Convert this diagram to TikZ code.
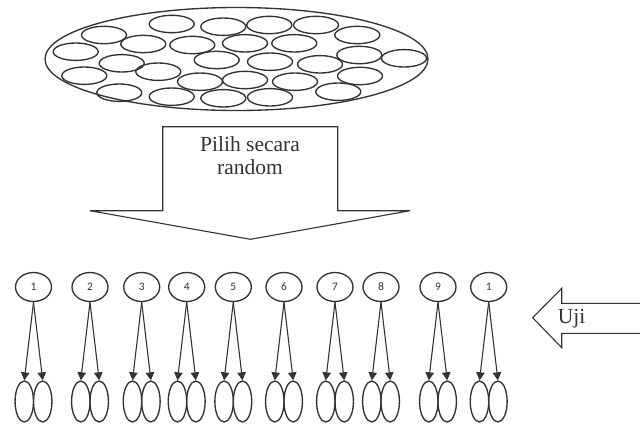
\documentclass[tikz,border=0pt]{standalone}
\usepackage{fontspec}
\setmainfont{Liberation Serif}
\newfontfamily\digitfont{Carlito}
\usetikzlibrary{shapes.geometric,arrows.meta}
\definecolor{ink}{HTML}{333333}
\tikzset{
  outline/.style={draw=ink, line width=1.35pt},
  topcell/.style={ellipse, outline, minimum width=36pt, minimum height=29pt, inner sep=0pt,
                  font=\digitfont\fontsize{11.5}{13}\selectfont, text=ink},
  leafcell/.style={ellipse, outline, minimum width=18.5pt, minimum height=41pt, inner sep=0pt},
  split/.style={draw=ink, line width=1.1pt, -{Triangle[length=8pt,width=8.5pt]}},
  bigtext/.style={font=\fontsize{21.5}{23}\selectfont, text=ink, align=center}
}
\begin{document}
\begin{tikzpicture}[x=1pt,y=-1pt]
\useasboundingbox (0,0) rectangle (640,424);

% population: a large ellipse full of small ones
\draw[outline] (236.5,59) ellipse [x radius=191.5, y radius=51.5];
\foreach \cx/\cy in {171.7/24, 223.3/26.7, 269.3/25, 316/25,
    104/35, 143.3/44, 192.3/45, 245/43.3, 294.3/43.3, 357.3/35,
    75.7/51.7, 216.7/60, 270/61.7, 320/64.3, 359.3/55, 404/58.3,
    121.7/63.3, 158.3/71.7, 84.3/75.7, 200/81.7, 245/80, 295/81.7, 360/76,
    119.3/92.7, 171.7/96.7, 223.3/98.3, 270/97.3, 338.3/91.7}
  \draw[outline] (\cx,\cy) ellipse [x radius=22.5, y radius=8.7];

% downward block arrow
\draw[outline, line width=1.1pt] (162.7,126.7) -- (162.7,210.7) -- (90,210.7) -- (250.5,239.3)
  -- (410,210.7) -- (337.7,210.7) -- (337.7,126.7) -- cycle;
\node[bigtext] (pick) at (250,156) {Pilih secara\\random};

% leftward block arrow, its tail runs off the right edge
\draw[outline, line width=1.1pt] (642,303.3) -- (561.7,303.3) -- (561.7,288.3) -- (532.7,317.7)
  -- (561.7,347.7) -- (561.7,333.3) -- (642,333.3);
\node[bigtext] (test) at (571.5,319) {Uji};

% samples, each split into two
\foreach \i/\x/\lab in {1/33.5/1, 2/90/2, 3/141.7/3, 4/186.7/4, 5/233.3/5,
    6/284/6, 7/335/7, 8/381/8, 9/438/9, 10/488.7/1} {
  \node[topcell] (t\i) at (\x,287) {\lab};
  \node[leafcell] (l\i) at (\x-9.2,401.5) {};
  \node[leafcell] (r\i) at (\x+9.2,401.5) {};
  \draw[split] (t\i.south) -- (l\i.north);
  \draw[split] (t\i.south) -- (r\i.north);
}
\end{tikzpicture}
\end{document}
